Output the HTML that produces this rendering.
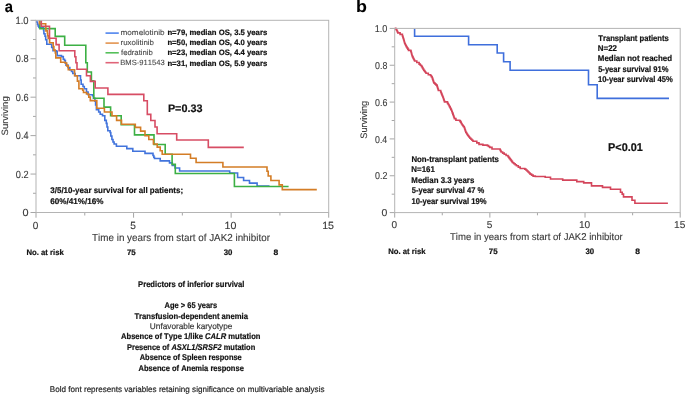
<!DOCTYPE html>
<html><head><meta charset="utf-8"><style>
html,body{margin:0;padding:0;background:#fff;}
body{width:685px;height:394px;overflow:hidden;font-family:"Liberation Sans",sans-serif;}
svg{display:block;font-kerning:none;will-change:transform;}
text{font-kerning:none;text-rendering:geometricPrecision;}
</style></head><body>
<svg width="685" height="394" viewBox="0 0 685 394"><path d="M30.5,212.5H36M33,193.28H36M30.5,174.06H36M33,154.84H36M30.5,135.62H36M33,116.4H36M30.5,97.18H36M33,77.96H36M30.5,58.74H36M33,39.52H36M30.5,20.3H36M36,212.5V217.7M84.78,212.5V215.5M133.57,212.5V217.7M182.35,212.5V215.5M231.13,212.5V217.7M279.92,212.5V215.5M328.7,212.5V217.7" stroke="#a6a6a6" stroke-width="1" fill="none"/><g fill="none" stroke-width="1.6" stroke-linejoin="miter" stroke-linecap="butt"><path d="M36.7,20.3H36.7V22.3H37.4V24.3H38.1V26H38.9V27.4H43.6V30.5H43.9V33.8H45V36.3H45.7V39.7H46.8V44.3H51.7V47.5H53V50.7H56.6V51.6H57.2V55.6H61.5V56.6H63.3V59.3H64.5V60.5H65.4V63H66V65.1H68V67.5H69.8V69.7H71.5V71.5H72.8V73.5H75.1V75.8H80.5V80H81.2V84.2H83V86.5H84.3V88.7H86.5V92H88.1V94.8H92.6V95.6H93.4V98.3H94.9V101.3H95.6V105H96.4V109.7H98.7V112H100.2V114.3H102.5V115.8H104.8V120.4H106.3V123.4H107V127H107.8V130.8H110.1V132.5H110.8V136H111.9V139.5H113V142H114.1V144H116.4V146.3H126.8V148.6H132.8V151.2H145V153.4H153V155.5H153.8V157.2H154.5V158.5H160.2V160.9H169.5V162.9H172.3V165.5H175V168H179.6V171H229.7V173H237.6V177.5H243.6V180.5H249.5V183.1H257.1V186H269.5" stroke="#4274dc"/><path d="M39.9,20.3H39.9V28.6H55.2V36.4H64.7V45.3H85.8V62.8H87.3V72H91.4V80.8H93.8V98.2H104V107.1H110.6V115.8H121.2V124.8H134.5V134.9H154V144.5H165.2V154.2H172.1V164.4H175.3V173.5H234.4V186.5H288.6" stroke="#3cb044"/><path d="M39.4,20.3H39.4V23.8H45.7V27.5H45.9V30.9H47.4V33.5H47.7V35.7H48.2V38.5H49.6V42.8H53.2V46.5H53.9V50.1H55.3V53H55.8V57.9H60.7V62.2H65.2V63H66.7V65.9H68.3V69.7H74.6V75.8H77.4V81.1H78.9V88.7H82.7V90.3H83.5V92.5H86.5V94H88.8V97.1H90.3V100.6H96.8V108.2H104.4V112H112V115.8H116.6V120.4H121.5V124.2H135.3V127.4H140.6V131.1H145V135.7H148.8V139.5H153.4V144H157.2V147.1H160.2V150.7H162.2V154.2H190.5V158.3H196.1V162.5H222.9V167H267V171.3H268.2V176H270.9V180.5H279.1V184.9H282.3V189.6H316.8" stroke="#d47d26"/><path d="M41.3,20.3H41.3V26.3H49.5V38.3H56.1V44.6H59.1V50.7H74.8V56.8H75.9V62.8H77V69.2H86.5V75.8H90.4V81.4H95.2V88H107.9V94.4H143.8V100.7H147.3V114.4H150.8V120.5H155V127H157.1V133.8H176.7V140H208.3V147.4H243.8" stroke="#d74d64"/></g><path d="M105.5,33.1H118.8" stroke="#4f84ee" stroke-width="1.6"/><path d="M105.5,43.1H118.8" stroke="#e29450" stroke-width="1.6"/><path d="M105.5,52.8H118.8" stroke="#55c05a" stroke-width="1.6"/><path d="M105.5,62.7H118.8" stroke="#e06478" stroke-width="1.6"/><path d="M389.7,212.6H394.7M391.7,194.18H394.7M389.7,175.76H394.7M391.7,157.34H394.7M389.7,138.92H394.7M391.7,120.5H394.7M389.7,102.08H394.7M391.7,83.66H394.7M389.7,65.24H394.7M391.7,46.82H394.7M389.7,28.4H394.7M394.7,212.6V217.6M442.28,212.6V215.3M489.87,212.6V217.6M537.45,212.6V215.3M585.03,212.6V217.6M632.62,212.6V215.3M680.2,212.6V217.6" stroke="#a6a6a6" stroke-width="1" fill="none"/><path d="M394.7,28.4H395.8V29H396.47V30.3H397.13V31.6H397.8V32.9H400.1V34.4H402.4V35.9H402.77V37.05H403.15V38.2H403.52V39.35H403.9V40.5H404.17V41.5H404.43V42.5H404.7V43.5H405.2V44.53H405.7V45.57H406.2V46.6H406.97V47.87H407.73V49.13H408.5V50.4H410.8V51.1H411.1V52.25H411.4V53.4H411.7V54.55H412V55.7H412.5V56.85H413V58H413.53V59H414.07V60H414.6V61H416.8V62.5H419.1V64.1H420.25V65.25H421.4V66.4H422.17V67.67H422.93V68.93H423.7V70.2H424.47V71.2H425.23V72.2H426V73.2H428.3V74.7H430.5V75.5H431.3V76.65H432.1V77.8H432.53V79.08H432.95V80.35H433.38V81.62H433.8V82.9H434.83V83.9H435.87V84.9H436.9V85.9H437.27V87.05H437.65V88.2H438.02V89.35H438.4V90.5H440.7V92H441.14V93.06H441.58V94.12H442.02V95.18H442.46V96.24H442.9V97.3H443.3V98.45H443.7V99.6H444.1V100.75H444.5V101.9H447.5V103.4H448.25V104.55H449V105.7H449.57V106.85H450.15V108H450.73V109.15H451.3V110.3H451.8V111.57H452.3V112.83H452.8V114.1H453.2V115.22H453.6V116.35H454V117.47H454.4V118.6H455.9V120.2H459.7V120.9H460.47V122.17H461.23V123.43H462V124.7H462.77V125.73H463.53V126.77H464.3V127.8H464.68V128.93H465.05V130.05H465.43V131.18H465.8V132.3H466.4V133.27H467V134.23H467.6V135.2H468.37V136.23H469.13V137.27H469.9V138.3H470.93V139.3H471.97V140.3H473V141.3H476.8V142.9H479V144.4H482.9V145.1H487.4V145.6H488.55V146.5H489.7V147.4H492V149H499.6V149H500.1V150H500.6V151H501.1V152H502.65V153.15H504.2V154.3H506.1V155.45H508V156.6H508.77V157.6H509.53V158.6H510.3V159.6H511.07V160.63H511.83V161.67H512.6V162.7H513.87V163.7H515.13V164.7H516.4V165.7H518.3V167.1H520.2V168.5H524.8V169.1H525.9V170.05H527V171H528.03V172.03H529.07V173.07H530.1V174.1H531.6V175.1H533.1V176.1H535.3V176.5H545.2V177.2H550.5V179H562.7V180.1H576.8V181.6H583.7V182.9H591.5V185.9H602.5V187.4H610.5V189.3H620.5V192.2H622.2V194.1H623.5V196.9H632V200.3H634.9V203.2H667.9" stroke="#d4455b" stroke-width="1.6" fill="none"/><path d="M414.6,28.8H414.6V36.3H468.6V44.8H497.2V53H503.6V61.8H510.1V70.3H588.5V84.8H597.2V98.4H669" stroke="#3f6fdc" stroke-width="1.6" fill="none"/><rect x="36" y="20.3" width="292.7" height="192.2" fill="none" stroke="#b4b4b4" stroke-width="1"/><rect x="394.7" y="28.4" width="285.5" height="184.2" fill="none" stroke="#b4b4b4" stroke-width="1"/><g font-family="Liberation Sans, sans-serif"><text x="4.67" y="12.1" font-size="16" fill="#000" textLength="8.24" lengthAdjust="spacingAndGlyphs" stroke="#000" stroke-width="0.1"><tspan style="font-weight:bold">a</tspan></text><text x="15.48" y="24" font-size="10.4" fill="#3a3a3a" textLength="13.08" lengthAdjust="spacingAndGlyphs" stroke="#3a3a3a" stroke-width="0.12">1.0</text><text x="15.84" y="62.44" font-size="10.4" fill="#3a3a3a" textLength="12.76" lengthAdjust="spacingAndGlyphs" stroke="#3a3a3a" stroke-width="0.12">0.8</text><text x="15.84" y="100.88" font-size="10.4" fill="#3a3a3a" textLength="12.76" lengthAdjust="spacingAndGlyphs" stroke="#3a3a3a" stroke-width="0.12">0.6</text><text x="15.85" y="139.32" font-size="10.4" fill="#3a3a3a" textLength="12.62" lengthAdjust="spacingAndGlyphs" stroke="#3a3a3a" stroke-width="0.12">0.4</text><text x="15.84" y="177.76" font-size="10.4" fill="#3a3a3a" textLength="12.82" lengthAdjust="spacingAndGlyphs" stroke="#3a3a3a" stroke-width="0.12">0.2</text><text x="22.58" y="216.2" font-size="10.4" fill="#3a3a3a" textLength="6.05" lengthAdjust="spacingAndGlyphs" stroke="#3a3a3a" stroke-width="0.12">0</text><text x="32.81" y="228.6" font-size="10.4" fill="#3a3a3a" textLength="5.58" lengthAdjust="spacingAndGlyphs" stroke="#3a3a3a" stroke-width="0.12">0</text><text x="130.36" y="228.6" font-size="10.4" fill="#3a3a3a" textLength="5.63" lengthAdjust="spacingAndGlyphs" stroke="#3a3a3a" stroke-width="0.12">5</text><text x="224.62" y="228.6" font-size="10.4" fill="#3a3a3a" textLength="11.83" lengthAdjust="spacingAndGlyphs" stroke="#3a3a3a" stroke-width="0.12">10</text><text x="322.19" y="228.6" font-size="10.4" fill="#3a3a3a" textLength="11.86" lengthAdjust="spacingAndGlyphs" stroke="#3a3a3a" stroke-width="0.12">15</text><text x="92.08" y="240.8" font-size="10.2" fill="#3a3a3a" textLength="177.88" lengthAdjust="spacingAndGlyphs" stroke="#3a3a3a" stroke-width="0.12">Time in years from start of JAK2 inhibitor</text><text x="26.48" y="255" font-size="8" fill="#111" textLength="37.31" lengthAdjust="spacingAndGlyphs" stroke="#111" stroke-width="0.2"><tspan style="font-weight:bold">No. at risk</tspan></text><text x="126.96" y="255" font-size="8" fill="#111" textLength="8.76" lengthAdjust="spacingAndGlyphs" stroke="#111" stroke-width="0.2"><tspan style="font-weight:bold">75</tspan></text><text x="223.72" y="255" font-size="8" fill="#111" textLength="8.7" lengthAdjust="spacingAndGlyphs" stroke="#111" stroke-width="0.2"><tspan style="font-weight:bold">30</tspan></text><text x="273.63" y="255" font-size="8" fill="#111" textLength="4.73" lengthAdjust="spacingAndGlyphs" stroke="#111" stroke-width="0.2"><tspan style="font-weight:bold">8</tspan></text><text x="120.56" y="35.3" font-size="7.6" fill="#4a4a4a" textLength="43.98" lengthAdjust="spacingAndGlyphs" stroke="#4a4a4a" stroke-width="0.12">momelotinib</text><text x="120.58" y="45.3" font-size="7.6" fill="#4a4a4a" textLength="33.36" lengthAdjust="spacingAndGlyphs" stroke="#4a4a4a" stroke-width="0.12">ruxolitinib</text><text x="120.99" y="55.1" font-size="7.6" fill="#4a4a4a" textLength="31.94" lengthAdjust="spacingAndGlyphs" stroke="#4a4a4a" stroke-width="0.12">fedratinib</text><text x="120.28" y="65" font-size="7.6" fill="#4a4a4a" textLength="44.36" lengthAdjust="spacingAndGlyphs" stroke="#4a4a4a" stroke-width="0.12">BMS-911543</text><text x="167.39" y="34.9" font-size="7.9" fill="#111" textLength="99.83" lengthAdjust="spacingAndGlyphs" stroke="#111" stroke-width="0.2"><tspan style="font-weight:bold">n=79, median OS, 3.5 years</tspan></text><text x="167.39" y="45" font-size="7.9" fill="#111" textLength="99.83" lengthAdjust="spacingAndGlyphs" stroke="#111" stroke-width="0.2"><tspan style="font-weight:bold">n=50, median OS, 4.0 years</tspan></text><text x="167.39" y="55.2" font-size="7.9" fill="#111" textLength="99.83" lengthAdjust="spacingAndGlyphs" stroke="#111" stroke-width="0.2"><tspan style="font-weight:bold">n=23, median OS, 4.4 years</tspan></text><text x="167.39" y="65.5" font-size="7.9" fill="#111" textLength="99.83" lengthAdjust="spacingAndGlyphs" stroke="#111" stroke-width="0.2"><tspan style="font-weight:bold">n=31, median OS, 5.9 years</tspan></text><text x="167.88" y="112" font-size="10.9" fill="#111" textLength="34.62" lengthAdjust="spacingAndGlyphs" stroke="#111" stroke-width="0.2"><tspan style="font-weight:bold">P=0.33</tspan></text><text x="50.32" y="193.2" font-size="8.2" fill="#111" textLength="132.74" lengthAdjust="spacingAndGlyphs" stroke="#111" stroke-width="0.2"><tspan style="font-weight:bold">3/5/10-year survival for all patients;</tspan></text><text x="50.2" y="203.5" font-size="8.2" fill="#111" textLength="53.31" lengthAdjust="spacingAndGlyphs" stroke="#111" stroke-width="0.2"><tspan style="font-weight:bold">60%/41%/16%</tspan></text><g transform="translate(7.7,116.0) rotate(-90)"><text x="-19.48" y="0" font-size="9.2" fill="#3a3a3a" textLength="39.15" lengthAdjust="spacingAndGlyphs" stroke="#3a3a3a" stroke-width="0.12">Surviving</text></g><text x="138.09" y="286.9" font-size="8.4" fill="#111" textLength="106.35" lengthAdjust="spacingAndGlyphs" stroke="#111" stroke-width="0.2"><tspan style="font-weight:bold">Predictors of inferior survival</tspan></text><text x="164.61" y="308.1" font-size="8.4" fill="#111" textLength="52.59" lengthAdjust="spacingAndGlyphs" stroke="#111" stroke-width="0.2"><tspan style="font-weight:bold">Age &gt; 65 years</tspan></text><text x="134.41" y="318.6" font-size="8.4" fill="#111" textLength="113.54" lengthAdjust="spacingAndGlyphs" stroke="#111" stroke-width="0.2"><tspan style="font-weight:bold">Transfusion-dependent anemia</tspan></text><text x="149.86" y="329" font-size="8.4" fill="#333" textLength="82.5" lengthAdjust="spacingAndGlyphs" stroke="#333" stroke-width="0.16">Unfavorable karyotype</text><text x="121.01" y="339.4" font-size="8.4" fill="#111" textLength="139.46" lengthAdjust="spacingAndGlyphs" stroke="#111" stroke-width="0.2"><tspan style="font-weight:bold">Absence of Type 1/like </tspan><tspan style="font-weight:bold;font-style:italic">CALR</tspan><tspan style="font-weight:bold"> mutation</tspan></text><text x="127" y="349.9" font-size="8.4" fill="#111" textLength="128.26" lengthAdjust="spacingAndGlyphs" stroke="#111" stroke-width="0.2"><tspan style="font-weight:bold">Presence of </tspan><tspan style="font-weight:bold;font-style:italic">ASXL1/SRSF2</tspan><tspan style="font-weight:bold"> mutation</tspan></text><text x="139.71" y="360.2" font-size="8.4" fill="#111" textLength="102.04" lengthAdjust="spacingAndGlyphs" stroke="#111" stroke-width="0.2"><tspan style="font-weight:bold">Absence of Spleen response</tspan></text><text x="138.51" y="370.7" font-size="8.4" fill="#111" textLength="105.34" lengthAdjust="spacingAndGlyphs" stroke="#111" stroke-width="0.2"><tspan style="font-weight:bold">Absence of Anemia response</tspan></text><text x="49.84" y="392" font-size="8.2" fill="#222" textLength="274.65" lengthAdjust="spacingAndGlyphs" stroke="#222" stroke-width="0.18">Bold font represents variables retaining significance on multivariable analysis</text><text x="355.92" y="11.9" font-size="16.6" fill="#000" textLength="10.91" lengthAdjust="spacingAndGlyphs" stroke="#000" stroke-width="0.05"><tspan style="font-weight:bold">b</tspan></text><text x="374.71" y="32" font-size="10" fill="#3a3a3a" textLength="12.65" lengthAdjust="spacingAndGlyphs" stroke="#3a3a3a" stroke-width="0.12">1.0</text><text x="375.05" y="68.84" font-size="10" fill="#3a3a3a" textLength="12.33" lengthAdjust="spacingAndGlyphs" stroke="#3a3a3a" stroke-width="0.12">0.8</text><text x="375.05" y="105.68" font-size="10" fill="#3a3a3a" textLength="12.34" lengthAdjust="spacingAndGlyphs" stroke="#3a3a3a" stroke-width="0.12">0.6</text><text x="375.06" y="142.52" font-size="10" fill="#3a3a3a" textLength="12.2" lengthAdjust="spacingAndGlyphs" stroke="#3a3a3a" stroke-width="0.12">0.4</text><text x="375.05" y="179.36" font-size="10" fill="#3a3a3a" textLength="12.4" lengthAdjust="spacingAndGlyphs" stroke="#3a3a3a" stroke-width="0.12">0.2</text><text x="381.59" y="216.2" font-size="10" fill="#3a3a3a" textLength="5.82" lengthAdjust="spacingAndGlyphs" stroke="#3a3a3a" stroke-width="0.12">0</text><text x="391.61" y="227.9" font-size="10" fill="#3a3a3a" textLength="5.58" lengthAdjust="spacingAndGlyphs" stroke="#3a3a3a" stroke-width="0.12">0</text><text x="486.76" y="227.9" font-size="10" fill="#3a3a3a" textLength="5.63" lengthAdjust="spacingAndGlyphs" stroke="#3a3a3a" stroke-width="0.12">5</text><text x="578.91" y="227.9" font-size="10" fill="#3a3a3a" textLength="11.27" lengthAdjust="spacingAndGlyphs" stroke="#3a3a3a" stroke-width="0.12">10</text><text x="674.08" y="227.9" font-size="10" fill="#3a3a3a" textLength="11.3" lengthAdjust="spacingAndGlyphs" stroke="#3a3a3a" stroke-width="0.12">15</text><text x="449.99" y="239.7" font-size="9.9" fill="#3a3a3a" textLength="172.67" lengthAdjust="spacingAndGlyphs" stroke="#3a3a3a" stroke-width="0.12">Time in years from start of JAK2 inhibitor</text><text x="388.18" y="254.2" font-size="8" fill="#111" textLength="37.31" lengthAdjust="spacingAndGlyphs" stroke="#111" stroke-width="0.2"><tspan style="font-weight:bold">No. at risk</tspan></text><text x="488.86" y="254.2" font-size="8" fill="#111" textLength="8.76" lengthAdjust="spacingAndGlyphs" stroke="#111" stroke-width="0.2"><tspan style="font-weight:bold">75</tspan></text><text x="585.52" y="254.2" font-size="8" fill="#111" textLength="8.7" lengthAdjust="spacingAndGlyphs" stroke="#111" stroke-width="0.2"><tspan style="font-weight:bold">30</tspan></text><text x="635.23" y="254.2" font-size="8" fill="#111" textLength="4.73" lengthAdjust="spacingAndGlyphs" stroke="#111" stroke-width="0.2"><tspan style="font-weight:bold">8</tspan></text><text x="598.31" y="40.8" font-size="8.4" fill="#111" textLength="70.5" lengthAdjust="spacingAndGlyphs" stroke="#111" stroke-width="0.2"><tspan style="font-weight:bold">Transplant patients</tspan></text><text x="597.87" y="51" font-size="8.4" fill="#111" textLength="19.15" lengthAdjust="spacingAndGlyphs" stroke="#111" stroke-width="0.2"><tspan style="font-weight:bold">N=22</tspan></text><text x="597.87" y="61.3" font-size="8.4" fill="#111" textLength="74.15" lengthAdjust="spacingAndGlyphs" stroke="#111" stroke-width="0.2"><tspan style="font-weight:bold">Median not reached</tspan></text><text x="598.17" y="71.9" font-size="8.4" fill="#111" textLength="70.23" lengthAdjust="spacingAndGlyphs" stroke="#111" stroke-width="0.2"><tspan style="font-weight:bold">5-year survival 91%</tspan></text><text x="597.92" y="82.4" font-size="8.4" fill="#111" textLength="74.88" lengthAdjust="spacingAndGlyphs" stroke="#111" stroke-width="0.2"><tspan style="font-weight:bold">10-year survival 45%</tspan></text><text x="411.38" y="161.9" font-size="8.4" fill="#111" textLength="87.54" lengthAdjust="spacingAndGlyphs" stroke="#111" stroke-width="0.2"><tspan style="font-weight:bold">Non-transplant patients</tspan></text><text x="411.37" y="172.3" font-size="8.4" fill="#111" textLength="23.45" lengthAdjust="spacingAndGlyphs" stroke="#111" stroke-width="0.2"><tspan style="font-weight:bold">N=161</tspan></text><text x="411.37" y="182.8" font-size="8.4" fill="#111" textLength="62.95" lengthAdjust="spacingAndGlyphs" stroke="#111" stroke-width="0.2"><tspan style="font-weight:bold">Median 3.3 years</tspan></text><text x="411.67" y="193.4" font-size="8.4" fill="#111" textLength="72.73" lengthAdjust="spacingAndGlyphs" stroke="#111" stroke-width="0.2"><tspan style="font-weight:bold">5-year survival 47 %</tspan></text><text x="411.42" y="203.8" font-size="8.4" fill="#111" textLength="75.08" lengthAdjust="spacingAndGlyphs" stroke="#111" stroke-width="0.2"><tspan style="font-weight:bold">10-year survival 19%</tspan></text><text x="608.07" y="150.8" font-size="11.2" fill="#111" textLength="34.83" lengthAdjust="spacingAndGlyphs" stroke="#111" stroke-width="0.2"><tspan style="font-weight:bold">P&lt;0.01</tspan></text><g transform="translate(367.3,119.9) rotate(-90)"><text x="-18.87" y="0" font-size="9.4" fill="#3a3a3a" textLength="37.91" lengthAdjust="spacingAndGlyphs" stroke="#3a3a3a" stroke-width="0.12">Surviving</text></g></g></svg>
</body></html>
